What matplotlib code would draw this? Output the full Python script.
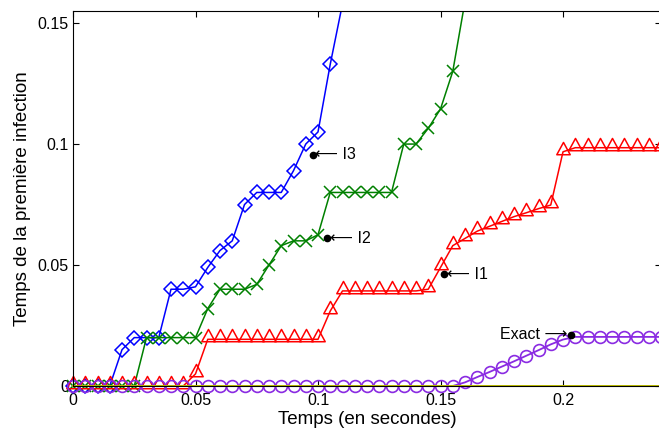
import numpy as np
import matplotlib.pyplot as plt
from matplotlib.patches import Rectangle
from matplotlib.path import Path

plt.rcParams['font.family'] = ['Liberation Sans', 'DejaVu Sans']

# temps d'echantillonnage (pas de 0.005 s)
t = np.round(np.arange(0, 0.2401, 0.005), 3)

# I3 (bleu, losanges) - sort du cadre apres 0.105
i3 = [0, 0, 0, 0, 0.015, 0.02, 0.02, 0.02, 0.04, 0.04, 0.041, 0.049,
      0.056, 0.06, 0.075, 0.08, 0.08, 0.08, 0.089, 0.1, 0.105, 0.133, 0.158, 0.2]

# I2 (vert, croix)
i2 = [0, 0, 0, 0, 0, 0, 0.02, 0.02, 0.02, 0.02, 0.02, 0.032,
      0.04, 0.04, 0.04, 0.042, 0.05, 0.058, 0.06, 0.06, 0.0625, 0.08,
      0.08, 0.08, 0.08, 0.08, 0.08, 0.1, 0.1, 0.1065, 0.1145, 0.13, 0.159, 0.2]

# I1 (rouge, triangles)
i1 = [0, 0, 0, 0, 0, 0, 0, 0, 0, 0, 0.005,
      0.0193, 0.0193, 0.0193, 0.0193, 0.0193, 0.0193, 0.0193, 0.0193, 0.0193, 0.0193,
      0.031, 0.0393, 0.0393, 0.0393, 0.0393, 0.0393, 0.0393, 0.0393, 0.04,
      0.049, 0.058, 0.061, 0.064, 0.066, 0.068, 0.07, 0.0716, 0.0733, 0.0748,
      0.0968, 0.0985, 0.0985, 0.0985, 0.0985, 0.0985, 0.0985, 0.0985, 0.0985]

# solution exacte (violet, cercles)
exact = [0] * 32 + [0.0015, 0.0037, 0.0058, 0.008, 0.0102, 0.0125, 0.0148,
                    0.0172, 0.0192, 0.0203, 0.0203, 0.0203, 0.0203, 0.0203,
                    0.0203, 0.0203, 0.0203]

zero_line = [0] * len(t)

# points annotes
lab_x = [0.0978, 0.1038, 0.1514]
lab_y = [0.0955, 0.061, 0.0462]
lab_txt = ['\u27f5 I3', '\u27f5 I2', '\u27f5 I1']
exact_pt = (0.2031, 0.0211)

fig = plt.figure(figsize=(6.59, 4.34), dpi=100)
ax = fig.add_axes([73 / 659, 48 / 434, 588 / 659, 375 / 434])

# triangle facon matlab : le point est pres de la base
tri = Path([(-6, -2), (6, -2), (0, 9), (-6, -2)], closed=True)
lines = []
lines += ax.plot(t[:len(i3)], i3, color='#0000ff', marker='D', ms=7.2, mfc='none',
                 mew=1.1, lw=1.1)
lines += ax.plot(t[:len(i2)], i2, color='#008000', marker='x', ms=8.5, mew=1.1, lw=1.1)
lines += ax.plot(t, i1, color='#ff0000', marker=tri, ms=14.5, mfc='none', mew=1.1, lw=1.1)
lines += ax.plot(t, exact, color='#8a2be2', marker='o', ms=8.5, mfc='none', mew=1.2, lw=1.3)
lines += ax.plot(t, zero_line, color='#bfbf00', lw=1.4)

# comme matlab : on laisse deborder les marqueurs en bas et a gauche
clip = Rectangle((-0.05, -0.05), 1.1, 1.05, transform=ax.transAxes)
for ln in lines:
    ln.set_clip_path(clip)

ax.plot(lab_x, lab_y, 'o', color='k', ms=4.5, clip_on=False)
ax.plot([exact_pt[0]], [exact_pt[1]], 'o', color='k', ms=4.5, clip_on=False)
for x, y, s in zip(lab_x, lab_y, lab_txt):
    ax.annotate(s, (x, y), xytext=(2, 0), textcoords='offset points',
                ha='left', va='center', fontsize=11.5)
ax.annotate('Exact \u27f6', exact_pt, xytext=(-2, 0), textcoords='offset points',
            ha='right', va='center', fontsize=11.5)

ax.set_xlim(0, 0.24)
ax.set_ylim(0, 0.155)
ax.set_xticks([0, 0.05, 0.1, 0.15, 0.2])
ax.set_xticklabels(['0', '0.05', '0.1', '0.15', '0.2'])
ax.set_yticks([0, 0.05, 0.1, 0.15])
ax.set_yticklabels(['0', '0.05', '0.1', '0.15'])
ax.tick_params(direction='in', length=4, width=0.8, top=True, right=True, labelsize=11.5)
ax.tick_params(axis='x', pad=5)
ax.tick_params(axis='y', pad=3)

ax.set_xlabel('Temps (en secondes)', fontsize=13.5, labelpad=2)
ax.set_ylabel('Temps de la premi\u00e8re infection', fontsize=13.5, labelpad=5)

fig.savefig('out.png', dpi=100)
